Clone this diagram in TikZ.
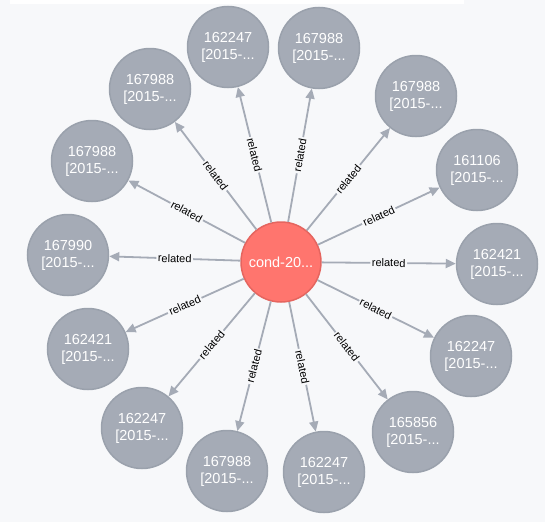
\documentclass[tikz,border=0pt]{standalone}
\usepackage{fontspec}
\setmainfont{Liberation Sans}
\usetikzlibrary{arrows.meta}
\definecolor{bg}{HTML}{F7F8FA}
\definecolor{nodegray}{HTML}{A5ABB6}
\definecolor{nodeborder}{HTML}{9AA1AC}
\definecolor{edgegray}{HTML}{A5ABB6}
\definecolor{centerred}{HTML}{FF756E}
\definecolor{centerborder}{HTML}{E5655F}
\begin{document}
\begin{tikzpicture}[x=1pt,y=-1pt,
  outer/.style={circle, fill=nodegray, draw=nodeborder, line width=1.5pt, minimum size=81pt, inner sep=0pt, text=white, font=\fontsize{14.5}{17}\selectfont, align=center},
  hub/.style={circle, fill=centerred, draw=centerborder, line width=1.5pt, minimum size=80pt, inner sep=0pt, text=white, font=\fontsize{14.5}{17}\selectfont},
  rel/.style={draw=edgegray, line width=1.8pt, -{Triangle[length=10pt,width=9pt]}},
  rlabel/.style={fill=bg, inner sep=1.5pt, font=\fontsize{11}{12}\selectfont, text=black, sloped}]
\fill[bg] (0,0) rectangle (545,522);
\fill[white] (10,0) rectangle (464,4);
\useasboundingbox (0,0) rectangle (545,522);
\node[hub] (c) at (281,262) {cond-20...};
\node[outer] (n1) at (228,47) {162247\\{[}2015-...};
\node[outer] (n2) at (319,48) {167988\\{[}2015-...};
\node[outer] (n3) at (416,96) {167988\\{[}2015-...};
\node[outer] (n4) at (477,170) {161106\\{[}2015-...};
\node[outer] (n5) at (497,264) {162421\\{[}2015-...};
\node[outer] (n6) at (471,356) {162247\\{[}2015-...};
\node[outer] (n7) at (413,432) {165856\\{[}2015-...};
\node[outer] (n8) at (324,472) {162247\\{[}2015-...};
\node[outer] (n9) at (227,471) {167988\\{[}2015-...};
\node[outer] (n10) at (142,428) {162247\\{[}2015-...};
\node[outer] (n11) at (88,349) {162421\\{[}2015-...};
\node[outer] (n12) at (68,255) {167990\\{[}2015-...};
\node[outer] (n13) at (92,161) {167988\\{[}2015-...};
\node[outer] (n14) at (150,89) {167988\\{[}2015-...};
\foreach \i in {1,...,14} \draw[rel] (c) -- node[rlabel]{related} (n\i);
\end{tikzpicture}
\end{document}
